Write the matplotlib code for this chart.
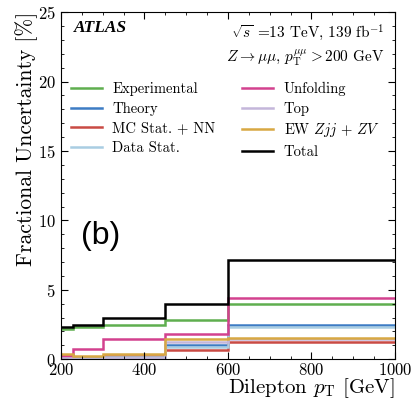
import matplotlib
matplotlib.use("Agg")
import matplotlib.pyplot as plt
from matplotlib.ticker import MultipleLocator

plt.rcParams['font.family'] = 'serif'
plt.rcParams['font.serif'] = ['cmr10', 'DejaVu Serif']
plt.rcParams['mathtext.fontset'] = 'cm'
plt.rcParams['axes.formatter.use_mathtext'] = True

# bin edges in dilepton pT [GeV]
edges = [200, 230, 300, 450, 600, 1000]

# fractional uncertainty per bin [%]
experimental = [2.15, 2.30, 2.50, 2.85, 4.00]
theory = [0.15, 0.10, 0.15, 1.05, 2.50]
mc_stat = [0.20, 0.10, 0.25, 0.65, 1.25]
data_stat = [0.10, 0.10, 0.15, 0.90, 2.35]
unfolding = [0.25, 0.75, 1.45, 1.80, 4.40]
top = [0.10, 0.05, 0.10, 1.25, 1.45]
ew_zjj = [0.35, 0.20, 0.40, 1.45, 1.55]
total = [2.30, 2.45, 2.95, 3.95, 7.15]

fuentes = [
    (experimental, 'Experimental', '#5fae4f'),
    (theory, 'Theory', '#3d7cc4'),
    (mc_stat, 'MC Stat. + NN', '#c94a44'),
    (data_stat, 'Data Stat.', '#a9cde2'),
    (unfolding, 'Unfolding', '#d3418e'),
    (top, 'Top', '#c4b6da'),
    (ew_zjj, r'EW $Zjj$ + $ZV$', '#d8a843'),
    (total, 'Total', '#000000'),
]

fig = plt.figure(figsize=(4.14, 4.05), dpi=100)
ax = fig.add_axes([0.147, 0.113, 0.807, 0.857])

for valores, nombre, color in fuentes:
    ax.stairs(valores, edges, baseline=None, color=color, lw=1.8, label=nombre)

ax.set_xlim(200, 1000)
ax.set_ylim(0, 25)
ax.xaxis.set_major_locator(MultipleLocator(200))
ax.xaxis.set_minor_locator(MultipleLocator(50))
ax.yaxis.set_major_locator(MultipleLocator(5))
ax.yaxis.set_minor_locator(MultipleLocator(1))
ax.tick_params(which='both', direction='in', top=True, right=True, labelsize=12)
ax.tick_params(which='major', length=5)
ax.tick_params(which='minor', length=2.5)
ax.tick_params(axis='x', pad=2)

ax.set_xlabel(r'Dilepton $p_{\mathrm{T}}$ [GeV]', fontsize=15, loc='right', labelpad=-1)
ax.set_ylabel('Fractional Uncertainty [%]', fontsize=15.5, loc='top', labelpad=0)

ax.text(0.04, 0.955, 'ATLAS', transform=ax.transAxes, fontsize=12.5,
        family='Liberation Serif', fontweight='bold', fontstyle='italic', va='center')
ax.text(0.97, 0.94, r'$\sqrt{s}$ =13 TeV, 139 fb$^{-1}$', transform=ax.transAxes,
        fontsize=11, ha='right', va='center')
ax.text(0.97, 0.868, r'$Z \rightarrow \mu\mu$, $p_{\mathrm{T}}^{\mu\mu} > 200$ GeV',
        transform=ax.transAxes, fontsize=11, ha='right', va='center')

ax.legend(loc='upper left', bbox_to_anchor=(0.03, 0.80), ncol=2, frameon=False,
          fontsize=10.5, borderaxespad=0, borderpad=0, handlelength=2.1,
          handletextpad=0.75, columnspacing=1.8, labelspacing=0.4)

ax.text(0.06, 0.355, '(b)', transform=ax.transAxes, fontsize=23,
        family='Liberation Sans', va='center')

fig.savefig('out.png', dpi=100)
